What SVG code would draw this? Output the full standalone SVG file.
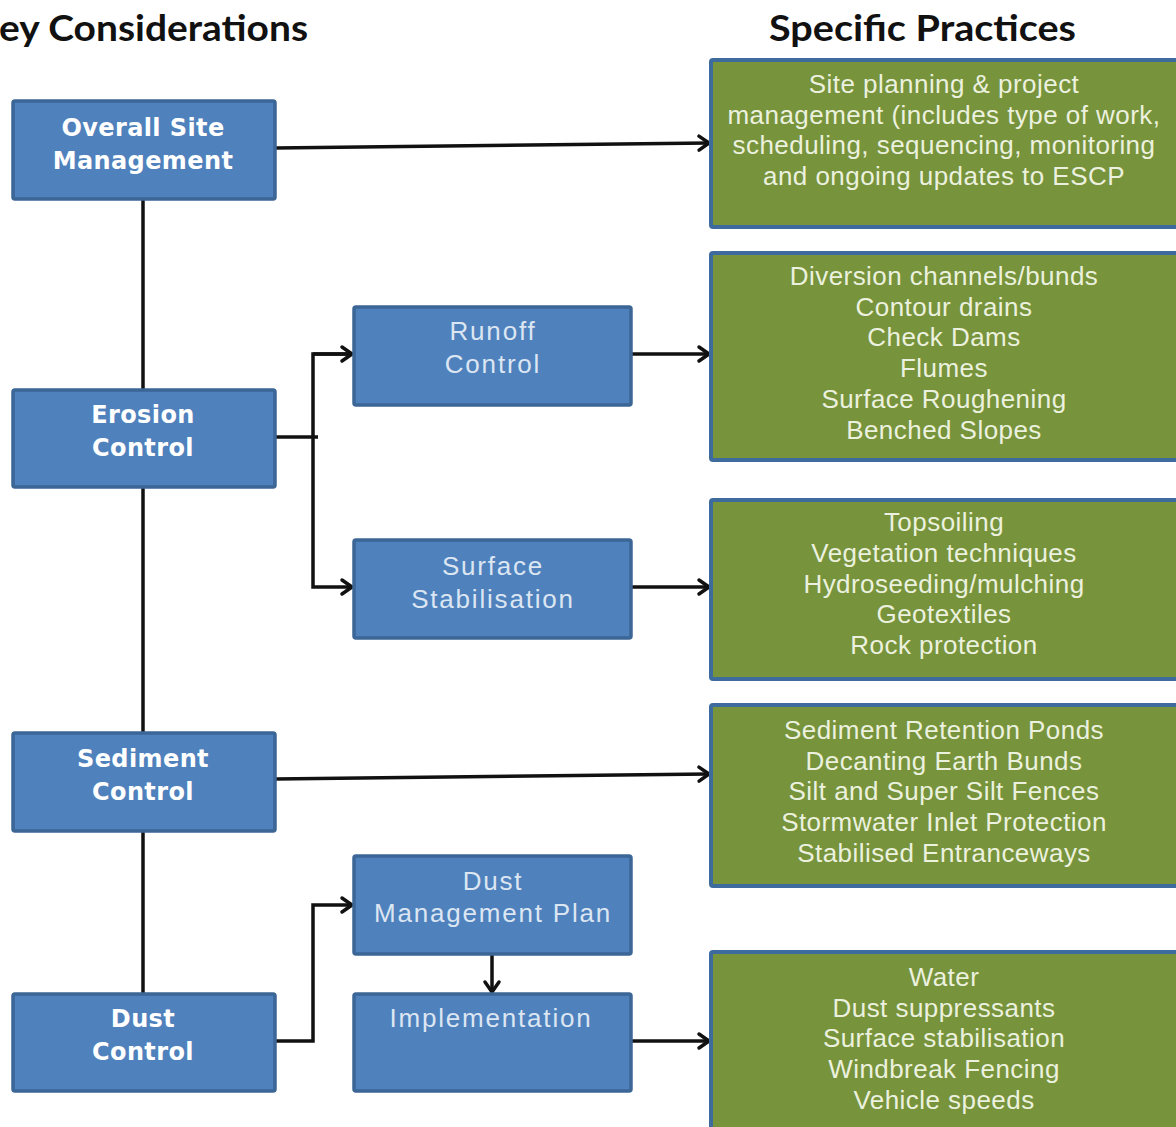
<svg xmlns="http://www.w3.org/2000/svg" width="1176" height="1127" viewBox="0 0 1176 1127">
  <style>
    .hdr { font-family: Lato, "Open Sans", "Liberation Sans", sans-serif; font-weight: 700; font-size: 37px; fill: #111; }
    .key rect { fill: #4F81BD; stroke: #3B6696; stroke-width: 3.5; }
    .key text { font-family: "DejaVu Sans", Verdana, sans-serif; font-weight: 700; font-size: 24px; letter-spacing: 0.4px; fill: #FFFFFF; text-anchor: middle; }
    .sub rect { fill: #4F81BD; stroke: #3B6696; stroke-width: 3.5; }
    .sub text { font-family: "Liberation Sans", Arial, sans-serif; font-size: 26px; letter-spacing: 1.8px; fill: #DCE6F2; text-anchor: middle; }
    .prac rect { fill: #77933C; stroke: #3E6B9E; stroke-width: 4; }
    .prac text { font-family: "Liberation Sans", Arial, sans-serif; font-size: 26px; letter-spacing: 0.45px; fill: #EBF1DE; text-anchor: middle; }
    .wire { fill: none; stroke: #111; stroke-width: 3.5; }
  </style>
  <defs>
    <marker id="chev" markerUnits="userSpaceOnUse" markerWidth="16" markerHeight="20" refX="13" refY="10" orient="auto">
      <path d="M3,3 L13,10 L3,17" fill="none" stroke="#111" stroke-width="3.5" stroke-linecap="round" stroke-linejoin="round"/>
    </marker>
  </defs>

  <rect width="1176" height="1127" fill="#FFFFFF"/>

  <!-- column headings -->
  <text class="hdr" x="-1" y="41" textLength="309" lengthAdjust="spacingAndGlyphs">ey Considerations</text>
  <text class="hdr" x="769" y="41" textLength="307" lengthAdjust="spacingAndGlyphs">Specific Practices</text>

  <!-- connectors (drawn beneath the boxes) -->
  <g id="connectors">
    <!-- main spine joining the key considerations -->
    <line class="wire" x1="143" y1="200" x2="143" y2="993"/>
    <!-- overall site management to practices -->
    <line class="wire" x1="275" y1="148" x2="709" y2="143" marker-end="url(#chev)"/>
    <!-- erosion control branches -->
    <polyline class="wire" points="275,437 318,437"/>
    <polyline class="wire" points="352,354 313,354 313,587 352,587" marker-end="url(#chev)"/>
    <line class="wire" x1="313" y1="354" x2="352" y2="354" marker-end="url(#chev)"/>
    <line class="wire" x1="631" y1="354" x2="709" y2="354" marker-end="url(#chev)"/>
    <line class="wire" x1="631" y1="587" x2="709" y2="587" marker-end="url(#chev)"/>
    <!-- sediment control to practices -->
    <line class="wire" x1="275" y1="779" x2="709" y2="774" marker-end="url(#chev)"/>
    <!-- dust control chain -->
    <polyline class="wire" points="275,1041 313,1041 313,905 352,905" marker-end="url(#chev)"/>
    <line class="wire" x1="492" y1="955" x2="492" y2="992" marker-end="url(#chev)"/>
    <line class="wire" x1="631" y1="1041" x2="709" y2="1041" marker-end="url(#chev)"/>
  </g>

  <!-- key considerations -->
  <g id="overall-site" class="key">
    <rect x="13" y="101" width="262" height="98" rx="2"/>
    <text x="143" y="136">Overall Site</text>
    <text x="143" y="169">Management</text>
  </g>
  <g id="erosion-control" class="key">
    <rect x="13" y="390" width="262" height="97" rx="2"/>
    <text x="143" y="423">Erosion</text>
    <text x="143" y="456">Control</text>
  </g>
  <g id="sediment-control" class="key">
    <rect x="13" y="733" width="262" height="98" rx="2"/>
    <text x="143" y="767">Sediment</text>
    <text x="143" y="800">Control</text>
  </g>
  <g id="dust-control" class="key">
    <rect x="13" y="994" width="262" height="97" rx="2"/>
    <text x="143" y="1027">Dust</text>
    <text x="143" y="1060">Control</text>
  </g>

  <!-- intermediate steps -->
  <g id="runoff-control" class="sub">
    <rect x="354" y="307" width="277" height="98" rx="2"/>
    <text x="493" y="340">Runoff</text>
    <text x="493" y="373">Control</text>
  </g>
  <g id="surface-stabilisation" class="sub">
    <rect x="354" y="540" width="277" height="98" rx="2"/>
    <text x="493" y="575">Surface</text>
    <text x="493" y="608">Stabilisation</text>
  </g>
  <g id="dust-management-plan" class="sub">
    <rect x="354" y="856" width="277" height="98" rx="2"/>
    <text x="493" y="890">Dust</text>
    <text x="493" y="922">Management Plan</text>
  </g>
  <g id="implementation" class="sub">
    <rect x="354" y="994" width="277" height="97" rx="2"/>
    <text x="491" y="1027">Implementation</text>
  </g>

  <!-- specific practices -->
  <g id="practice-site" class="prac">
    <rect x="711" y="60" width="470" height="167" rx="2"/>
    <text x="944" y="93">Site planning &amp; project</text>
    <text x="944" y="124">management (includes type of work,</text>
    <text x="944" y="154">scheduling, sequencing, monitoring</text>
    <text x="944" y="185">and ongoing updates to ESCP</text>
  </g>
  <g id="practice-runoff" class="prac">
    <rect x="711" y="253" width="470" height="207" rx="2"/>
    <text x="944" y="285">Diversion channels/bunds</text>
    <text x="944" y="316">Contour drains</text>
    <text x="944" y="346">Check Dams</text>
    <text x="944" y="377">Flumes</text>
    <text x="944" y="408">Surface Roughening</text>
    <text x="944" y="439">Benched Slopes</text>
  </g>
  <g id="practice-surface" class="prac">
    <rect x="711" y="500" width="470" height="179" rx="2"/>
    <text x="944" y="531">Topsoiling</text>
    <text x="944" y="562">Vegetation techniques</text>
    <text x="944" y="593">Hydroseeding/mulching</text>
    <text x="944" y="623">Geotextiles</text>
    <text x="944" y="654">Rock protection</text>
  </g>
  <g id="practice-sediment" class="prac">
    <rect x="711" y="705" width="470" height="181" rx="2"/>
    <text x="944" y="739">Sediment Retention Ponds</text>
    <text x="944" y="770">Decanting Earth Bunds</text>
    <text x="944" y="800">Silt and Super Silt Fences</text>
    <text x="944" y="831">Stormwater Inlet Protection</text>
    <text x="944" y="862">Stabilised Entranceways</text>
  </g>
  <g id="practice-dust" class="prac">
    <rect x="711" y="952" width="470" height="190" rx="2"/>
    <text x="944" y="986">Water</text>
    <text x="944" y="1017">Dust suppressants</text>
    <text x="944" y="1047">Surface stabilisation</text>
    <text x="944" y="1078">Windbreak Fencing</text>
    <text x="944" y="1109">Vehicle speeds</text>
  </g>
</svg>
